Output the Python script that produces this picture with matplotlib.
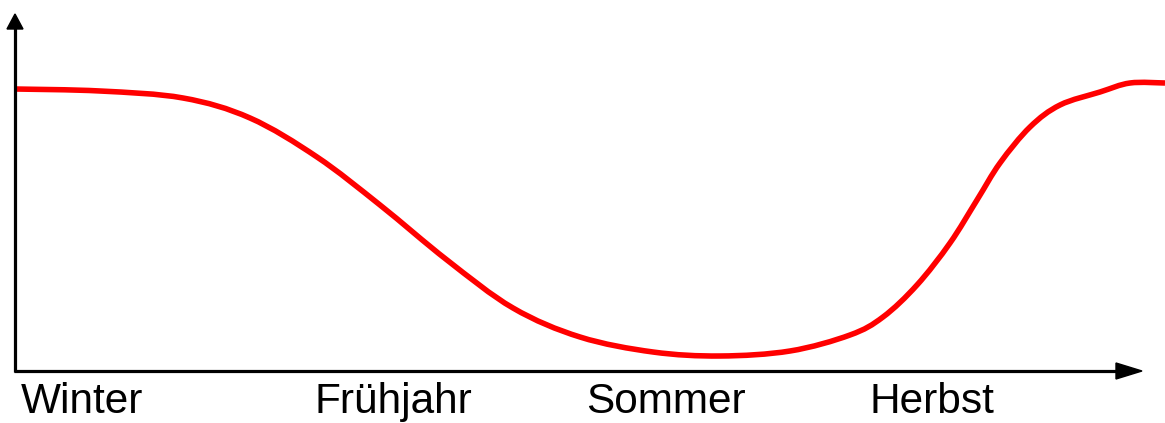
'''
Jahreszeitlicher Verlauf - Skizze mit Pfeilachsen
'''

import matplotlib.pyplot as plt
from matplotlib.path import Path
from matplotlib.patches import PathPatch

# curve (pixel-like units, y grows downwards)
curve_x = [15, 100, 183, 250, 317, 380, 447, 513, 580, 653, 720, 790,
           850, 883, 917, 950, 977, 1000, 1030, 1060, 1100, 1130, 1165]
curve_y = [89, 91, 98, 118, 157, 205, 260, 308, 337, 352, 356, 351,
           335, 317, 285, 243, 200, 163, 127, 105, 92, 83, 83]

# season labels and their centres
seasons = ['Winter', 'Frühjahr', 'Sommer', 'Herbst']
season_x = [82, 393, 666, 932]

fig = plt.figure(figsize=(11.65, 4.23), dpi=100)
ax = fig.add_axes([0, 0, 1, 1])
ax.set_xlim(0, 1165)
ax.set_ylim(423, 0)
ax.axis('off')

# axes with arrow heads
ax.plot([15, 15], [372, 28], color='black', lw=2.3, solid_capstyle='butt')
ax.plot([14, 1118], [371, 371], color='black', lw=2.3, solid_capstyle='butt')
ax.fill([7, 23, 15], [29, 29, 14], color='black')
ax.fill([1116, 1116, 1142], [363, 379, 371], color='black')

# smooth bezier through the read points (catmull-rom style handles)
pts = list(zip(curve_x, curve_y))
verts = [pts[0]]
codes = [Path.MOVETO]
for i in range(len(pts) - 1):
    p0 = pts[max(i - 1, 0)]
    p1 = pts[i]
    p2 = pts[i + 1]
    p3 = pts[min(i + 2, len(pts) - 1)]
    c1 = (p1[0] + (p2[0] - p0[0]) / 6, p1[1] + (p2[1] - p0[1]) / 6)
    c2 = (p2[0] - (p3[0] - p1[0]) / 6, p2[1] - (p3[1] - p1[1]) / 6)
    verts += [c1, c2, p2]
    codes += [Path.CURVE4] * 3
ax.add_patch(PathPatch(Path(verts, codes), facecolor='none',
                       edgecolor='#ff0000', lw=4.0, capstyle='butt'))

for name, x in zip(seasons, season_x):
    ax.text(x, 413, name, ha='center', va='baseline', fontsize=30.5,
            family='Liberation Sans', color='black')

plt.savefig('out.png', dpi=100)
